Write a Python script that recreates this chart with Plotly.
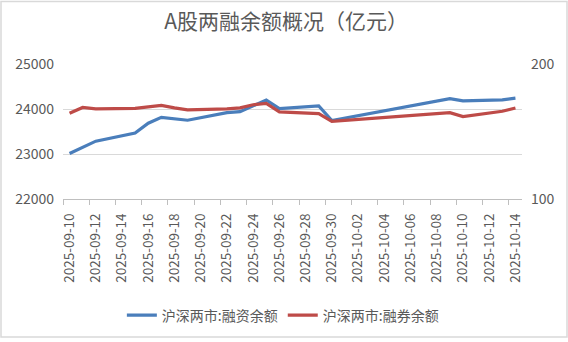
import plotly.graph_objects as go

# ---- data ----
DATES = ["2025-09-10", "2025-09-11", "2025-09-12", "2025-09-15", "2025-09-16",
         "2025-09-17", "2025-09-18", "2025-09-19", "2025-09-22", "2025-09-23",
         "2025-09-24", "2025-09-25", "2025-09-26", "2025-09-29", "2025-09-30",
         "2025-10-09", "2025-10-10", "2025-10-13", "2025-10-14"]
MARGIN_FIN = [23010, 23150, 23285, 23465, 23685, 23815, 23790, 23750, 23920, 23940,
              24070, 24200, 24010, 24070, 23745, 24230, 24180, 24205, 24240]
SHORT_SELL = [163.5, 167.8, 166.8, 167.2, 168.3, 169.4, 167.5, 166.0, 166.7, 167.5,
              169.8, 170.8, 164.5, 163.3, 157.5, 164.0, 161.0, 165.0, 167.4]
TICK_LABELS = ["2025-09-10", "2025-09-12", "2025-09-14", "2025-09-16", "2025-09-18",
               "2025-09-20", "2025-09-22", "2025-09-24", "2025-09-26", "2025-09-28",
               "2025-09-30", "2025-10-02", "2025-10-04", "2025-10-06", "2025-10-08",
               "2025-10-10", "2025-10-12", "2025-10-14"]
NAMES = ["沪深两市:融资余额", "沪深两市:融券余额"]
TITLE = "A股两融余额概况（亿元）"

FONT = "Noto Sans CJK SC"
GRAY = "#595959"

fig = go.Figure()
fig.add_trace(go.Scatter(x=DATES, y=MARGIN_FIN, name=NAMES[0], mode="lines",
                         line=dict(color="#4a7ebb", width=3.2)))
fig.add_trace(go.Scatter(x=DATES, y=SHORT_SELL, name=NAMES[1], mode="lines",
                         yaxis="y2", line=dict(color="#be4b48", width=3.2)))

fig.update_layout(
    width=568, height=342,
    margin=dict(l=63, r=46, t=64, b=142),
    paper_bgcolor="white", plot_bgcolor="white",
    font=dict(family=FONT, color=GRAY, size=14),
    title=dict(text=TITLE, x=0.486, xanchor="center", xref="paper",
               y=1 - 22 / 342, yanchor="middle", yref="container",
               font=dict(size=21, color=GRAY, family=FONT)),
    xaxis=dict(type="date", range=["2025-09-09 12:00", "2025-10-14 12:00"],
               tickvals=TICK_LABELS, ticktext=TICK_LABELS, tickangle=-90,
               ticks="", ticklabelstandoff=8, tickfont=dict(size=13.5),
               showgrid=False, showline=True, linecolor="#bfbfbf", linewidth=1,
               zeroline=False,
               minor=dict(ticks="outside", ticklen=5, tickcolor="#bfbfbf",
                          tick0="2025-09-09 12:00", dtick=2 * 86400000,
                          showgrid=False)),
    yaxis=dict(range=[22000, 25000], dtick=1000, showgrid=True,
               gridcolor="#d9d9d9", gridwidth=1, zeroline=False,
               showline=False, ticks="", ticklabelstandoff=8,
               tickfont=dict(size=14), tickformat="d"),
    yaxis2=dict(range=[100, 200], dtick=100, overlaying="y", side="right",
                showgrid=False, zeroline=False, showline=False, ticks="",
                ticklabelstandoff=8, tickfont=dict(size=14)),
    showlegend=True,
    legend=dict(orientation="h", x=0.479, xanchor="center", y=-0.85,
                yanchor="middle", font=dict(size=14, color=GRAY, family=FONT),
                bgcolor="rgba(0,0,0,0)", itemwidth=30, tracegroupgap=0),
    shapes=[dict(type="rect", xref="paper", yref="paper",
                 x0=(1 - 63) / 459, x1=(567 - 63) / 459,
                 y0=(200 - 339) / 136, y1=(200 - 1) / 136,
                 line=dict(color="#d9d9d9", width=1.5), layer="below")],
)

fig.write_html("out.html")
